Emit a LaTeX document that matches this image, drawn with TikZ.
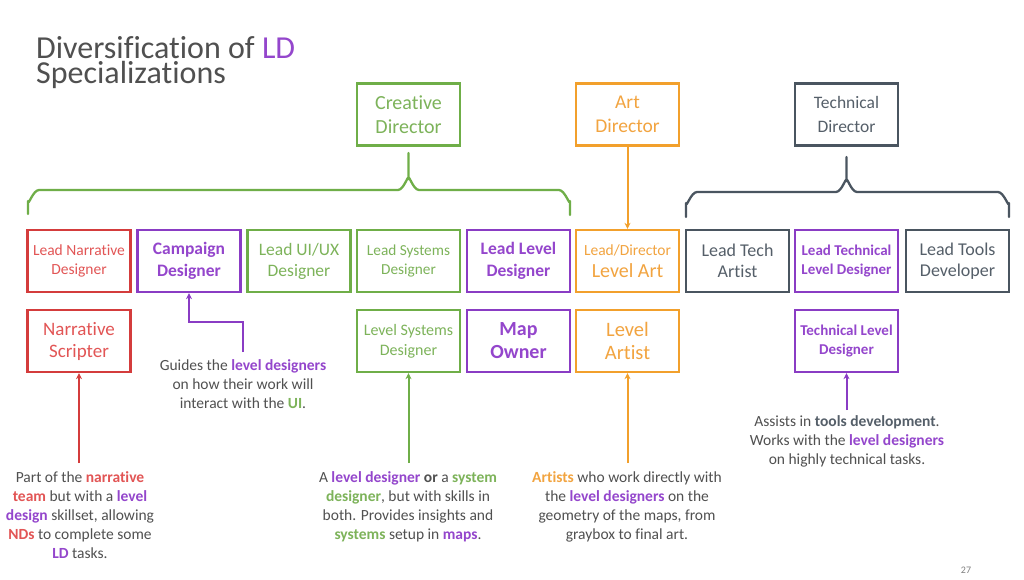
\documentclass[tikz,border=0pt]{standalone}
\usepackage{fontspec}
\setmainfont{Carlito}[Ligatures=NoCommon]
\usetikzlibrary{arrows.meta}
\definecolor{cred}{HTML}{D43C3C}
\definecolor{tred}{HTML}{E25555}
\definecolor{cpur}{HTML}{8A3CC4}
\definecolor{tpur}{HTML}{9446CC}
\definecolor{cgrn}{HTML}{6FAE48}
\definecolor{tgrn}{HTML}{7DB35A}
\definecolor{cora}{HTML}{F2A02C}
\definecolor{tora}{HTML}{F2A440}
\definecolor{cgry}{HTML}{4A5560}
\definecolor{tgry}{HTML}{555F69}
\definecolor{body}{HTML}{505050}
\tikzset{
  box/.style={draw, line width=2.3pt, minimum width=103pt, minimum height=62pt, inner sep=0pt, align=center},
  redbox/.style={box, draw=cred, text=tred},
  purbox/.style={box, draw=cpur, text=tpur},
  grnbox/.style={box, draw=cgrn, text=tgrn},
  orabox/.style={box, draw=cora, text=tora},
  grybox/.style={box, draw=cgry, text=tgry},
  note/.style={align=center, text=body, font=\fontsize{15.5}{19}\selectfont, inner sep=0pt, anchor=north},
  titletext/.style={anchor=base west, inner sep=0pt, text=body, font=\fontsize{32}{25}\selectfont},
  conn/.style={line width=2pt},
  arr/.style={conn, -{Stealth[length=6pt,width=6pt]}},
  brace/.style={line width=2.3pt, line cap=round, line join=round}
}
\newcommand{\hp}[1]{\textbf{\textcolor{tpur}{#1}}}
\newcommand{\hr}[1]{\textbf{\textcolor{tred}{#1}}}
\newcommand{\hg}[1]{\textbf{\textcolor{tgrn}{#1}}}
\newcommand{\ho}[1]{\textbf{\textcolor{tora}{#1}}}
\newcommand{\hk}[1]{\textbf{\textcolor{tgry}{#1}}}
\begin{document}
\begin{tikzpicture}[x=1pt,y=-1pt]
\useasboundingbox[fill=white] (0,0) rectangle (1024,580);
% title
\node[titletext] (title1) at (36,59) {Diversification of \textcolor{tpur}{LD}};
\node[titletext] (title2) at (36,84) {Specializations};
% directors
\node[grnbox, font=\fontsize{20}{24}\selectfont] (cd) at (408.5,114.5) {Creative\\Director};
\node[orabox, font=\fontsize{19.5}{24}\selectfont] (ad) at (627.5,114.5) {Art\\Director};
\node[grybox, font=\fontsize{17.5}{24}\selectfont] (td) at (846.5,114.5) {Technical\\Director};
% row 1
\node[redbox, font=\fontsize{15.5}{19}\selectfont] (lnd) at (79,261) {Lead Narrative\\Designer};
\node[purbox, font=\bfseries\fontsize{17.5}{22}\selectfont] (cam) at (189,261) {Campaign\\Designer};
\node[grnbox, font=\fontsize{17.5}{21}\selectfont] (lui) at (299,261) {Lead UI/UX\\Designer};
\node[grnbox, font=\fontsize{15.3}{19}\selectfont] (lsd) at (408.5,261) {Lead Systems\\Designer};
\node[purbox, font=\bfseries\fontsize{17.5}{22}\selectfont] (lld) at (518.5,261) {Lead Level\\Designer};
\node[orabox, font=\fontsize{15.5}{22}\selectfont] (lla) at (627.5,261) {Lead/Director\\{\fontsize{20}{22}\selectfont Level Art}};
\node[grybox, font=\fontsize{18}{21}\selectfont] (lta) at (737.5,261) {Lead Tech\\Artist};
\node[purbox, font=\bfseries\fontsize{15}{19}\selectfont] (ltl) at (846.5,261) {Lead Technical\\Level Designer};
\node[grybox, font=\fontsize{18}{21}\selectfont] (ltd) at (957.5,261) {Lead Tools\\Developer};
% row 2
\node[redbox, font=\fontsize{19}{22}\selectfont] (ns) at (79,341) {Narrative\\Scripter};
\node[grnbox, font=\fontsize{16}{20}\selectfont] (lvs) at (408.5,341) {Level Systems\\Designer};
\node[purbox, font=\bfseries\fontsize{20}{23}\selectfont] (mo) at (518.5,341) {Map\\Owner};
\node[orabox, font=\fontsize{20.5}{23}\selectfont] (la) at (627.5,341) {Level\\Artist};
\node[purbox, font=\bfseries\fontsize{15}{19}\selectfont] (tld) at (846.5,341) {Technical Level\\Designer};
% braces
\draw[brace, cgrn] (28,214) -- (28,201) to[out=-90,in=180] (39,190) -- (398,190) to[out=0,in=90] (408.5,179) -- (408.5,153);
\draw[brace, cgrn] (408.5,179) to[out=90,in=180] (419,190) -- (559,190) to[out=0,in=-90] (570,201) -- (570,215);
\draw[brace, cgry] (686,217) -- (686,203) to[out=-90,in=180] (697,192) -- (836,192) to[out=0,in=90] (846.5,181) -- (846.5,157);
\draw[brace, cgry] (846.5,181) to[out=90,in=180] (857,192) -- (998,192) to[out=0,in=-90] (1009,203) -- (1009,217);
% art director arrow
\draw[arr, cora] (ad.south) -- (lla.north);
% campaign note
\coordinate (c1) at (243,352);
\coordinate (c2) at (243,322);
\draw[arr, cpur] (c1) -- (c2) -| (cam.south);
\node[note] (camnote) at (243,359) {Guides the \hp{level designers}\\on how their work will\\interact with the \hg{UI}.};
% narrative note
\coordinate (n1) at (79,463);
\draw[arr, cred] (n1) -- (ns.south);
\node[note] (nsnote) at (80,471) {Part of the \hr{narrative}\\\hr{team} but with a \hp{level}\\\hp{design} skillset, allowing\\\hr{NDs} to complete some\\\hp{LD} tasks.};
% level systems note
\coordinate (s1) at (408.5,463);
\draw[arr, cgrn] (s1) -- (lvs.south);
\node[note] (lvsnote) at (408,471) {A \hp{level designer} \textbf{or} a \hg{system}\\\hg{designer}, but with skills in\\both. Provides insights and\\\hg{systems} setup in \hp{maps}.};
% level artist note
\coordinate (a1) at (627.5,463);
\draw[arr, cora] (a1) -- (la.south);
\node[note] (lanote) at (627,471) {\ho{Artists} who work directly with\\the \hp{level designers} on the\\geometry of the maps, from\\graybox to final art.};
% technical note
\coordinate (t1) at (846.5,410);
\draw[arr, cpur] (t1) -- (tld.south);
\node[note] (tldnote) at (847,415) {Assists in \hk{tools development}.\\Works with the \hp{level designers}\\on highly technical tasks.};
% page number
\node[text=gray, font=\fontsize{10}{11}\selectfont, anchor=base] (pg) at (966,573) {27};
\end{tikzpicture}
\end{document}
